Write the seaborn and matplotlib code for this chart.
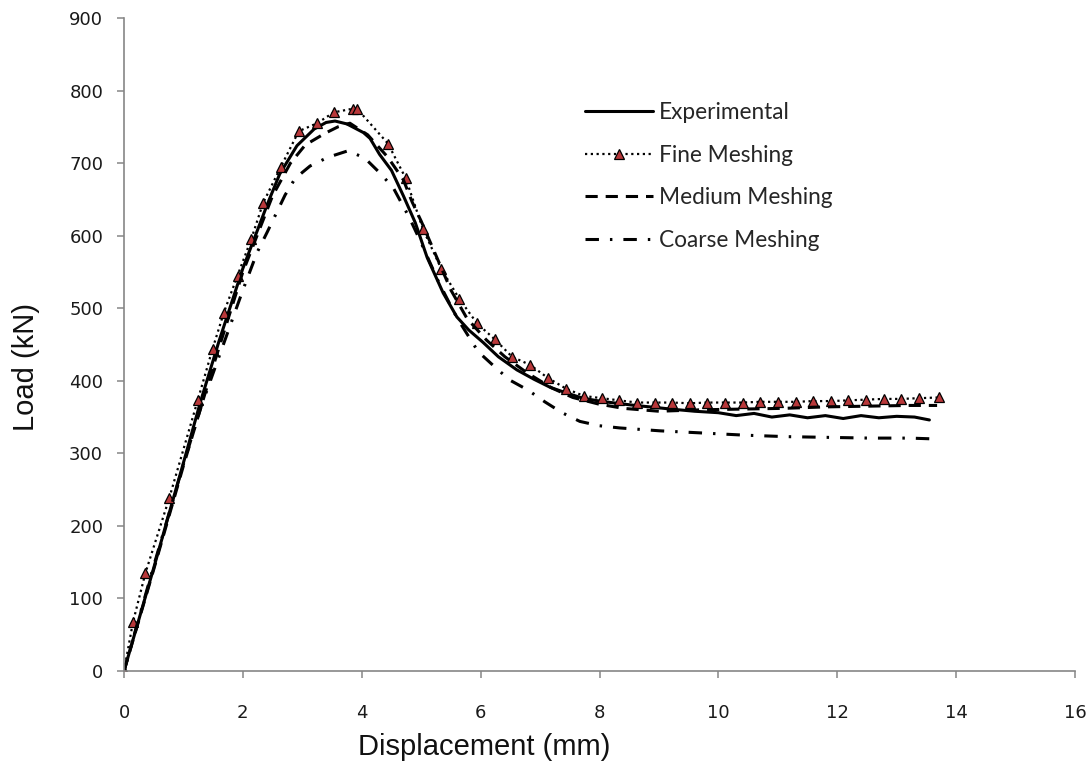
import matplotlib
matplotlib.use("Agg")
import matplotlib.pyplot as plt
import seaborn as sns
import numpy as np
import pandas as pd

# ---------------- data ----------------
exp_x = [0, 0.5, 1.0, 1.29, 1.6, 2.0, 2.42, 2.62, 2.91, 3.2, 3.4, 3.55, 3.75, 4.03, 4.14, 4.3,
         4.5, 4.7, 4.9, 5.1, 5.37, 5.6, 5.8, 6.04, 6.3, 6.61, 6.9, 7.17, 7.45, 7.72, 8.0, 8.29,
         8.6, 8.85, 9.2, 9.6, 10.0, 10.3, 10.6, 10.9, 11.2, 11.5, 11.8, 12.1, 12.4, 12.7, 13.0,
         13.3, 13.55]
exp_y = [0, 142, 287, 372, 455, 555, 645, 685, 724, 747, 756, 758, 754, 742, 734, 712,
         690, 655, 618, 570, 521, 488, 470, 453, 433, 415, 402, 391, 383, 376, 372, 369,
         366, 364, 361, 358, 356, 352, 355, 350, 353, 349, 352, 348, 352, 349, 351,
         350, 346]

fine_x = [0, 0.15, 0.36, 0.76, 1.24, 1.49, 1.68, 1.91, 2.14, 2.34, 2.64, 2.94, 3.25, 3.53,
          3.85, 3.92, 4.44, 4.74, 5.03, 5.34, 5.64, 5.94, 6.24, 6.53, 6.83, 7.13, 7.44, 7.74,
          8.04, 8.33, 8.63, 8.93, 9.22, 9.52, 9.81, 10.11, 10.41, 10.70, 11.00, 11.30, 11.59,
          11.89, 12.18, 12.48, 12.78, 13.07, 13.37, 13.71]
fine_y = [0, 67, 135, 238, 373, 444, 494, 545, 595, 645, 695, 744, 755, 770,
          775, 775, 727, 679, 609, 554, 513, 479, 457, 433, 422, 404, 389, 379,
          376, 373, 370, 370, 370, 369, 370, 370, 370, 371, 371, 371, 372,
          372, 373, 374, 375, 375, 376, 377]

med_x = [0, 0.5, 1.0, 1.5, 2.0, 2.5, 2.8, 3.05, 3.38, 3.6, 3.8, 4.1, 4.44, 4.7, 4.85, 5.0,
         5.2, 5.5, 5.77, 6.1, 6.41, 6.78, 7.2, 7.55, 7.98, 8.4, 9.0, 9.7, 10.4, 11.1, 11.8,
         12.5, 13.2, 13.68]
med_y = [0, 140, 283, 420, 550, 655, 700, 725, 741, 750, 755, 739, 708, 677, 646, 620,
         582, 525, 486, 456, 433, 411, 390, 377, 368, 362, 358, 360, 361, 362, 364,
         365, 366, 366]

coarse_x = [0, 0.5, 1.0, 1.3, 1.65, 2.0, 2.24, 2.41, 2.71, 2.88, 3.13, 3.43, 3.77, 4.05, 4.31,
            4.53, 4.8, 5.0, 5.3, 5.6, 5.96, 6.24, 6.49, 6.8, 7.08, 7.37, 7.67, 8.0, 8.34, 9.02,
            9.74, 10.45, 11.15, 11.84, 12.55, 13.22, 13.58]
coarse_y = [0, 145, 285, 365, 445, 525, 577, 605, 656, 679, 696, 708, 717, 707, 686,
            666, 625, 590, 535, 487, 440, 419, 401, 387, 371, 356, 344, 338, 335, 331,
            328, 325, 323, 322, 321, 321, 320]

series_labels = ["Experimental", "Fine Meshing", "Medium Meshing", "Coarse Meshing"]
x_ticks = list(range(0, 17, 2))
y_ticks = list(range(0, 901, 100))

# ---------------- plot ----------------
sns.set_style("white")
plt.rcParams["font.family"] = ["DejaVu Sans"]

fig = plt.figure(figsize=(10.92, 7.73), dpi=100)
ax = fig.add_axes([124 / 1092, 1 - 671 / 773, (1075 - 124) / 1092, (671 - 18) / 773])

sns.lineplot(x=exp_x, y=exp_y, ax=ax, color="black", lw=2.2, sort=False,
             estimator=None, label=series_labels[0])
sns.lineplot(x=fine_x, y=fine_y, ax=ax, color="black", lw=1.6, sort=False,
             estimator=None, linestyle=(0, (1, 1.6)), marker="^", markersize=7,
             markerfacecolor="#b8383a", markeredgecolor="black", markeredgewidth=0.9,
             label=series_labels[1])
sns.lineplot(x=med_x, y=med_y, ax=ax, color="black", lw=2.2, sort=False,
             estimator=None, linestyle=(0, (4.0, 2.6)), label=series_labels[2])
sns.lineplot(x=coarse_x, y=coarse_y, ax=ax, color="black", lw=2.2, sort=False,
             estimator=None, linestyle=(0, (4.4, 3.6, 0.8, 3.6)), label=series_labels[3])

ax.set_xlim(0, 16)
ax.set_ylim(0, 900)
ax.set_xticks(x_ticks)
ax.set_yticks(y_ticks)

for s in ["top", "right"]:
    ax.spines[s].set_visible(False)
for s in ["left", "bottom"]:
    ax.spines[s].set_color("#868686")
    ax.spines[s].set_linewidth(1.2)

ax.tick_params(axis="both", direction="out", length=5, width=1.1, color="#868686",
               labelsize=13, labelcolor="#1a1a1a")
ax.tick_params(axis="y", pad=10, left=True)
ax.tick_params(axis="x", pad=19, bottom=True)

ax.set_xlabel("Displacement (mm)", fontsize=21, family=["Liberation Sans"], color="#111111")
ax.set_ylabel("Load (kN)", fontsize=21, family=["Liberation Sans"], color="#111111")
ax.xaxis.set_label_coords(0.3785, -0.095)
ax.yaxis.set_label_coords(-0.088, 0.466)

leg = ax.legend(loc="upper left", bbox_to_anchor=(585 / 1092, 1 - 102 / 773),
                bbox_transform=fig.transFigure, frameon=False, borderpad=0,
                borderaxespad=0, handlelength=3.0, handletextpad=0.25,
                labelspacing=0.95, prop={"family": "Lato", "size": 16.3})

fig.savefig("out.png", dpi=100)
